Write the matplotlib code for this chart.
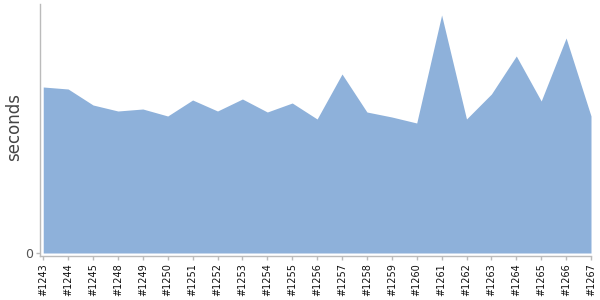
import matplotlib
matplotlib.use("Agg")
import matplotlib.pyplot as plt

builds = ["#1243", "#1244", "#1245", "#1248", "#1249", "#1250", "#1251", "#1252",
          "#1253", "#1254", "#1255", "#1256", "#1257", "#1258", "#1259", "#1260",
          "#1261", "#1262", "#1263", "#1264", "#1265", "#1266", "#1267"]
seconds = [166, 164, 148, 142, 144, 137, 153, 142, 154, 141, 150, 134, 179, 141,
           136, 130, 238, 134, 159, 197, 152, 215, 137]

fig = plt.figure(figsize=(6, 3), dpi=100)
ax = fig.add_axes([40 / 600, 1 - 256 / 300, 551 / 600, 252 / 300])

x = list(range(len(builds)))
ax.fill_between(x, seconds, 0, color="#8eb1da", linewidth=0)

ax.set_xlim(-0.13, len(builds) - 1)
ax.set_ylim(-3, 249)
ax.set_xticks(x)
ax.set_xticklabels(builds, rotation=90, fontsize=7, color="#111111")
ax.set_yticks([0])
ax.set_yticklabels(["0"], fontsize=9, color="#555555")
ax.set_ylabel("seconds", fontsize=12, color="#444444")
ax.yaxis.set_label_coords(-0.03, 0.51)

for side in ["top", "right"]:
    ax.spines[side].set_visible(False)
for side in ["left", "bottom"]:
    ax.spines[side].set_color("#bbbbbb")
    ax.spines[side].set_linewidth(1)
ax.tick_params(axis="both", colors="#bbbbbb", length=3, width=1, pad=2)
for lab in ax.get_xticklabels():
    lab.set_color("#111111")
for lab in ax.get_yticklabels():
    lab.set_color("#555555")

fig.savefig("out.png", dpi=100)
